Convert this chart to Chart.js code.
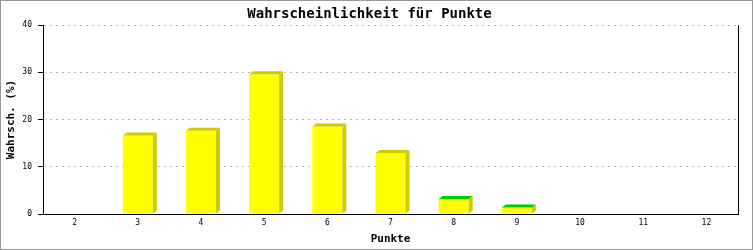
<!DOCTYPE html>
<html>
<head>
<meta charset="utf-8">
<script src="https://cdn.jsdelivr.net/npm/chart.js@4"></script>
<style>
  html, body { margin: 0; padding: 0; background: #fff; }
  #frame { width: 753px; height: 250px; box-sizing: border-box; border: 1px solid #999; }
  canvas { display: block; }
</style>
</head>
<body>
<div id="frame"><canvas id="chart" width="751" height="248"></canvas></div>
<script>
// values (percent)
const categories = ['2', '3', '4', '5', '6', '7', '8', '9', '10', '11', '12'];
const probabilities = [null, 16.6, 17.6, 29.6, 18.5, 12.9, 3.2, 1.35, null, null, null];
const yTicks = [0, 10, 20, 30, 40];

// colour of the top face of each bar
const topColors = ['#cccc00', '#cccc00', '#cccc00', '#cccc00', '#cccc00', '#cccc00', '#00cc00', '#00cc00', '#cccc00', '#cccc00', '#cccc00'];

const MONO = "'DejaVu Sans Mono', 'Liberation Mono', monospace";
Chart.defaults.font.family = MONO;
Chart.defaults.color = '#000';

// fake 3D: side + top face on every bar, plus the right frame line
const bar3d = {
  id: 'bar3d',
  afterDatasetsDraw(chart, args, opts) {
    const ctx = chart.ctx;
    const data = chart.data.datasets[0].data;
    const dx = opts.dx, dy = opts.dy;
    chart.getDatasetMeta(0).data.forEach((bar, i) => {
      if (data[i] == null) return;
      const { x, y, base, width } = bar.getProps(['x', 'y', 'base', 'width'], true);
      const l = x - width / 2, r = x + width / 2;
      ctx.save();
      ctx.fillStyle = opts.sideColor;
      ctx.beginPath();
      ctx.moveTo(r, y); ctx.lineTo(r + dx, y - dy); ctx.lineTo(r + dx, base - dy); ctx.lineTo(r, base);
      ctx.closePath(); ctx.fill();
      ctx.fillStyle = topColors[i];
      ctx.beginPath();
      ctx.moveTo(l, y); ctx.lineTo(l + dx, y - dy); ctx.lineTo(r + dx, y - dy); ctx.lineTo(r, y);
      ctx.closePath(); ctx.fill();
      ctx.restore();
    });
    const a = chart.chartArea;
    ctx.save();
    ctx.strokeStyle = '#000';
    ctx.lineWidth = 1;
    ctx.beginPath();
    ctx.moveTo(Math.round(a.right) + 0.5, a.top);
    ctx.lineTo(Math.round(a.right) + 0.5, a.bottom);
    ctx.stroke();
    ctx.restore();
  }
};

new Chart(document.getElementById('chart'), {
  type: 'bar',
  data: {
    labels: categories,
    datasets: [{
      data: probabilities,
      backgroundColor: '#ffff00',
      borderWidth: 0,
      categoryPercentage: 1,
      barPercentage: 0.475
    }]
  },
  options: {
    responsive: false,
    animation: false,
    layout: { padding: { top: 0, right: 14, bottom: 0, left: 0 } },
    plugins: {
      legend: { display: false },
      tooltip: { enabled: false },
      title: {
        display: true,
        text: 'Wahrscheinlichkeit für Punkte',
        font: { family: MONO, size: 14, weight: 'bold', lineHeight: 1.2 },
        padding: { top: 4.6, bottom: 2.6 },
        color: '#000'
      },
      bar3d: { dx: 4, dy: 3, sideColor: '#cccc00' }
    },
    scales: {
      x: {
        grid: { display: false, drawTicks: false },
        border: { display: true, color: '#000', width: 1 },
        ticks: { font: { size: 8 }, padding: 4, maxRotation: 0, autoSkip: false },
        title: {
          display: true, text: 'Punkte',
          font: { size: 11, weight: 'bold', lineHeight: 1.2 },
          padding: { top: 0, bottom: 3.4 }
        },
        afterFit: s => { s.height = 35; }
      },
      y: {
        min: 0, max: 40,
        afterBuildTicks: s => { s.ticks = yTicks.map(v => ({ value: v })); },
        grid: { color: '#b4b4b4', tickColor: '#000', tickLength: 5, tickBorderDash: [] },
        border: { display: true, color: '#000', width: 1, dash: [2, 4] },
        ticks: { font: { size: 8 }, padding: 6 },
        title: {
          display: true, text: 'Wahrsch. (%)',
          font: { size: 11, weight: 'bold', lineHeight: 1.2 },
          padding: { top: 4, bottom: 0 }
        },
        afterFit: s => { s.width = 42; }
      }
    }
  },
  plugins: [bar3d]
});
</script>
</body>
</html>
